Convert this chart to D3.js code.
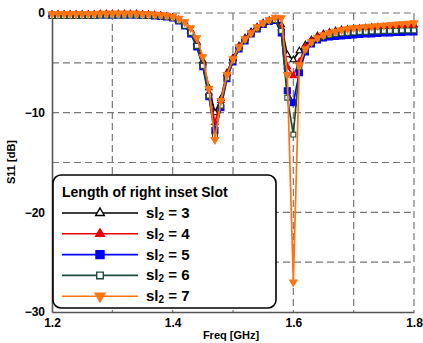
<!DOCTYPE html>
<html>
<head>
<meta charset="utf-8">
<script src="https://cdn.jsdelivr.net/npm/d3@7"></script>
<style>
body{margin:0;background:#fff}
svg{display:block;font-family:"Liberation Sans",Arial,sans-serif}
</style>
</head>
<body>
<svg id="chart" width="423" height="343"></svg>
<script>
// frequency points (GHz)
var freq = [1.20,1.21,1.22,1.23,1.24,1.25,1.26,1.27,1.28,1.29,
	1.30,1.31,1.32,1.33,1.34,1.35,1.36,1.37,1.38,1.39,
	1.40,1.41,1.42,1.43,1.44,1.45,1.46,1.47,1.48,1.49,
	1.50,1.51,1.52,1.53,1.54,1.55,1.56,1.57,1.58,1.59,
	1.60,1.61,1.62,1.63,1.64,1.65,1.66,1.67,1.68,1.69,
	1.70,1.71,1.72,1.73,1.74,1.75,1.76,1.77,1.78,1.79,1.80];

// S11 in dB, one list per slot length
var sl3 = [-0.15,-0.15,-0.15,-0.15,-0.15,-0.15,-0.15,-0.15,-0.1,-0.1,
	-0.1,-0.1,-0.1,-0.1,-0.1,-0.15,-0.15,-0.2,-0.25,-0.35,
	-0.45,-0.7,-1.1,-1.8,-2.9,-4.8,-7.5,-10.0,-8.6,-6.0,
	-4.5,-3.3,-2.5,-1.9,-1.4,-1.0,-0.75,-0.6,-1.2,-4.2,
	-4.7,-3.8,-3.2,-2.7,-2.3,-2.1,-1.95,-1.8,-1.7,-1.65,
	-1.6,-1.55,-1.5,-1.45,-1.4,-1.4,-1.35,-1.3,-1.3,-1.25,-1.2];
var sl4 = [-0.15,-0.15,-0.15,-0.15,-0.15,-0.15,-0.15,-0.15,-0.1,-0.1,
	-0.1,-0.1,-0.1,-0.1,-0.1,-0.15,-0.15,-0.2,-0.25,-0.35,
	-0.45,-0.7,-1.1,-1.8,-3.0,-5.0,-8.0,-11.0,-8.8,-6.1,
	-4.6,-3.4,-2.6,-2.0,-1.45,-1.05,-0.8,-0.65,-1.5,-5.4,
	-6.3,-4.9,-3.4,-2.8,-2.4,-2.2,-2.0,-1.9,-1.8,-1.7,
	-1.65,-1.6,-1.55,-1.5,-1.45,-1.45,-1.4,-1.35,-1.35,-1.3,-1.25];
var sl5 = [-0.25,-0.25,-0.25,-0.25,-0.25,-0.25,-0.25,-0.25,-0.2,-0.2,
	-0.2,-0.2,-0.2,-0.2,-0.2,-0.25,-0.25,-0.3,-0.35,-0.4,
	-0.5,-0.8,-1.3,-2.1,-3.4,-5.4,-8.4,-11.8,-9.5,-6.6,
	-4.9,-3.6,-2.8,-2.1,-1.6,-1.15,-0.85,-0.75,-2.0,-7.8,
	-9.0,-6.0,-3.9,-3.1,-2.7,-2.5,-2.4,-2.35,-2.3,-2.25,
	-2.2,-2.15,-2.1,-2.1,-2.05,-2.0,-2.0,-1.95,-1.95,-1.9,-1.9];
var sl6 = [-0.3,-0.3,-0.3,-0.3,-0.3,-0.3,-0.3,-0.3,-0.25,-0.25,
	-0.25,-0.25,-0.25,-0.25,-0.25,-0.3,-0.3,-0.3,-0.35,-0.4,
	-0.5,-0.8,-1.3,-2.0,-3.3,-5.3,-8.3,-12.3,-9.3,-6.5,
	-4.8,-3.5,-2.7,-2.05,-1.55,-1.1,-0.8,-0.7,-1.8,-8.5,
	-12.2,-5.4,-3.7,-3.0,-2.6,-2.35,-2.2,-2.1,-2.05,-2.0,
	-1.95,-1.9,-1.9,-1.85,-1.85,-1.8,-1.8,-1.8,-1.75,-1.75,-1.75];
var sl7 = [-0.1,-0.1,-0.1,-0.1,-0.1,-0.1,-0.1,-0.1,-0.05,-0.05,
	-0.05,-0.05,-0.05,-0.05,-0.05,-0.1,-0.1,-0.15,-0.2,-0.25,
	-0.35,-0.55,-0.9,-1.5,-2.5,-4.4,-7.6,-12.7,-8.8,-6.2,
	-4.6,-3.4,-2.6,-2.0,-1.4,-1.0,-0.7,-0.45,-0.5,-6.2,
	-27.0,-5.2,-3.6,-2.9,-2.5,-2.2,-2.0,-1.85,-1.7,-1.6,
	-1.5,-1.45,-1.4,-1.35,-1.3,-1.25,-1.2,-1.15,-1.1,-1.05,-1.0];

var slotLengths = ['3', '4', '5', '6', '7'];
var xTickVals = [1.2, 1.4, 1.6, 1.8];
var yTickVals = [0, -10, -20, -30];
var xGridVals = [1.3, 1.4, 1.5, 1.6, 1.7, 1.8];
var yGridVals = [0, -5, -10, -15, -20, -25];

var series = [
	{name: slotLengths[0], values: sl3, color: '#000000', symbol: d3.symbolTriangle, size: 18, fill: '#fff', rot: 0},
	{name: slotLengths[1], values: sl4, color: '#ee0000', symbol: d3.symbolTriangle, size: 18, fill: '#ee0000', rot: 0},
	{name: slotLengths[2], values: sl5, color: '#0000ff', symbol: d3.symbolSquare, size: 36, fill: '#0000ff', rot: 0},
	{name: slotLengths[3], values: sl6, color: '#1b4b3b', symbol: d3.symbolSquare, size: 24, fill: '#fff', rot: 0},
	{name: slotLengths[4], values: sl7, color: '#ff7412', symbol: d3.symbolTriangle, size: 24, fill: '#ff7412', rot: 180}
];

var svg = d3.select('#chart');
var x = d3.scaleLinear().domain([1.2, 1.8]).range([52, 414]);
var y = d3.scaleLinear().domain([-30, 0]).range([312, 13]);

// dashed grid
var grid = svg.append('g').attr('stroke', '#777').attr('stroke-width', 1.2).attr('stroke-dasharray', '7,4');
grid.selectAll('.vg').data(xGridVals).enter().append('line')
	.attr('x1', function(d){ return x(d); }).attr('x2', function(d){ return x(d); })
	.attr('y1', y(0)).attr('y2', y(-30));
grid.selectAll('.hg').data(yGridVals).enter().append('line')
	.attr('x1', x(1.2)).attr('x2', x(1.8))
	.attr('y1', function(d){ return y(d); }).attr('y2', function(d){ return y(d); });

// axes
var xAxis = d3.axisBottom(x).tickValues(xTickVals).tickSize(0).tickPadding(6)
	.tickFormat(d3.format('.1f'));
var yAxis = d3.axisLeft(y).tickValues(yTickVals).tickSize(0).tickPadding(7);
var gx = svg.append('g').attr('transform', 'translate(0,' + y(-30) + ')').call(xAxis);
var gy = svg.append('g').attr('transform', 'translate(' + x(1.2) + ',0)').call(yAxis);
[gx, gy].forEach(function(g){
	g.select('.domain').attr('stroke', '#555').attr('stroke-width', 1.6);
	g.selectAll('text').attr('font-size', 12).attr('font-weight', 'bold').attr('fill', '#000')
		.attr('font-family', '"Liberation Sans",Arial,sans-serif');
});

svg.append('text').attr('x', 231).attr('y', 339).attr('text-anchor', 'middle')
	.attr('font-size', 11).attr('font-weight', 'bold').text('Freq [GHz]');
svg.append('text').attr('transform', 'translate(15,162) rotate(-90)').attr('text-anchor', 'middle')
	.attr('font-size', 11).attr('font-weight', 'bold').text('S11 [dB]');

// curves + markers
var line = d3.line()
	.x(function(d, i){ return x(freq[i]); })
	.y(function(d){ return y(d); });

series.forEach(function(s){
	var g = svg.append('g');
	g.append('path').attr('d', line(s.values)).attr('fill', 'none')
		.attr('stroke', s.color).attr('stroke-width', 1.7);
	var sym = d3.symbol().type(s.symbol).size(s.size);
	g.selectAll('path.mk').data(s.values).enter().append('path')
		.attr('class', 'mk')
		.attr('d', sym)
		.attr('transform', function(d, i){ return 'translate(' + x(freq[i]) + ',' + y(d) + ') rotate(' + s.rot + ')'; })
		.attr('fill', s.fill).attr('stroke', s.color).attr('stroke-width', 1.1);
});

// legend
var lg = svg.append('g');
lg.append('rect').attr('x', 53).attr('y', 175).attr('width', 223).attr('height', 133)
	.attr('rx', 8).attr('fill', '#fff').attr('stroke', '#000').attr('stroke-width', 1.6);
lg.append('text').attr('x', 62).attr('y', 197).attr('font-size', 14).attr('font-weight', 'bold')
	.text('Length of right inset Slot');
series.forEach(function(s, i){
	var ly = 213 + i * 20.8;
	lg.append('line').attr('x1', 62).attr('x2', 138).attr('y1', ly).attr('y2', ly)
		.attr('stroke', s.color).attr('stroke-width', 1.6);
	lg.append('path').attr('d', d3.symbol().type(s.symbol).size(s.size * 1.8)())
		.attr('transform', 'translate(100,' + ly + ') rotate(' + s.rot + ')')
		.attr('fill', s.fill).attr('stroke', s.color).attr('stroke-width', 1.4);
	var t = lg.append('text').attr('x', 146).attr('y', ly + 5).attr('font-size', 15).attr('font-weight', 'bold');
	t.append('tspan').text('sl');
	t.append('tspan').attr('font-size', 10).attr('dy', 2).text('2');
	t.append('tspan').attr('dy', -2).text(' = ' + s.name);
});
</script>
</body>
</html>
